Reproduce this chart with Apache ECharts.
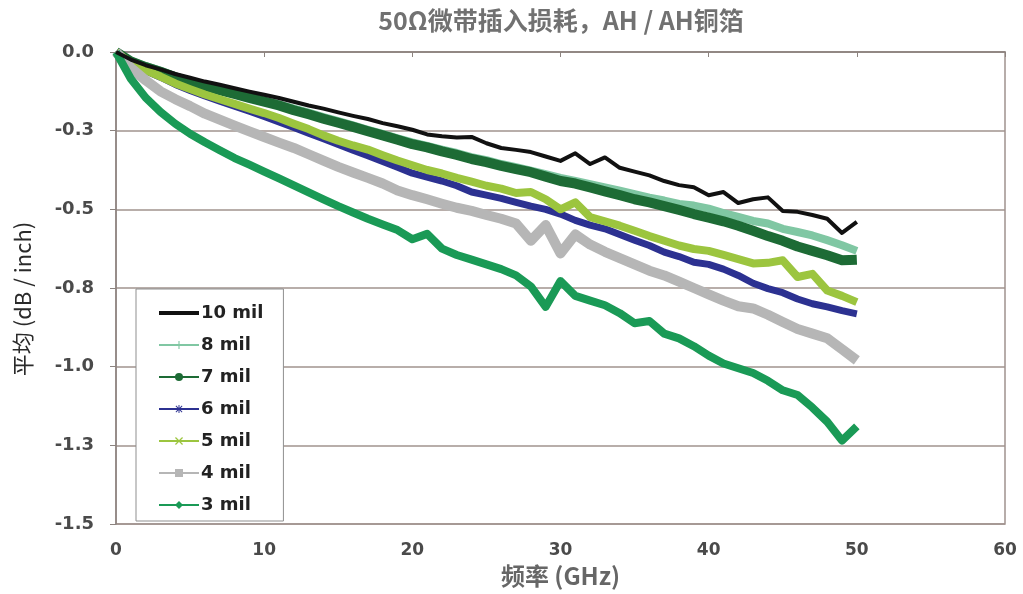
<!DOCTYPE html>
<html>
<head>
<meta charset="utf-8">
<script src="https://cdn.jsdelivr.net/npm/echarts@6/dist/echarts.min.js"></script>
<style>
  html, body { margin: 0; padding: 0; background: #fff; }
  #chart { width: 1023px; height: 594px; }
</style>
</head>
<body>
<div id="chart"></div>
<script>
// frequency points (GHz)
const freqs = [0, 1, 2, 3, 4, 5, 6, 7, 8, 9, 10, 11, 12, 13, 14, 15, 16, 17, 18, 19, 20,
  21, 22, 23, 24, 25, 26, 27, 28, 29, 30, 31, 32, 33, 34, 35, 36, 37, 38, 39, 40,
  41, 42, 43, 44, 45, 46, 47, 48, 49, 50];

// average loss (dB / inch)
const mil10 = [0, -0.024, -0.042, -0.055, -0.07, -0.082, -0.094, -0.104, -0.115, -0.126, -0.136,
  -0.146, -0.158, -0.17, -0.18, -0.192, -0.203, -0.213, -0.226, -0.236, -0.247,
  -0.262, -0.268, -0.272, -0.27, -0.29, -0.305, -0.311, -0.318, -0.332, -0.346,
  -0.322, -0.356, -0.335, -0.368, -0.38, -0.392, -0.41, -0.423, -0.43, -0.455,
  -0.445, -0.48, -0.468, -0.462, -0.505, -0.508, -0.518, -0.53, -0.575, -0.54];
const mil8 = [0, -0.028, -0.045, -0.06, -0.077, -0.092, -0.105, -0.117, -0.13, -0.142, -0.154,
  -0.166, -0.18, -0.193, -0.207, -0.22, -0.233, -0.247, -0.26, -0.274, -0.287,
  -0.298, -0.31, -0.321, -0.334, -0.344, -0.356, -0.366, -0.377, -0.388, -0.4,
  -0.41, -0.42, -0.43, -0.441, -0.452, -0.463, -0.472, -0.483, -0.488, -0.498,
  -0.512, -0.524, -0.537, -0.545, -0.562, -0.572, -0.583, -0.598, -0.614, -0.632];
const mil7 = [0, -0.03, -0.048, -0.063, -0.08, -0.095, -0.108, -0.121, -0.133, -0.146, -0.158,
  -0.17, -0.185, -0.198, -0.212, -0.225, -0.238, -0.252, -0.265, -0.279, -0.293,
  -0.303, -0.316, -0.327, -0.34, -0.35, -0.362, -0.372, -0.382, -0.396, -0.41,
  -0.418, -0.43, -0.443, -0.455, -0.468, -0.478, -0.49, -0.502, -0.515, -0.526,
  -0.538, -0.552, -0.568, -0.585, -0.6, -0.618, -0.632, -0.646, -0.662, -0.66];
const mil6 = [0, -0.036, -0.06, -0.08, -0.103, -0.122, -0.14, -0.156, -0.172, -0.188, -0.205,
  -0.222, -0.24, -0.258, -0.276, -0.294, -0.312, -0.33, -0.348, -0.366, -0.385,
  -0.398, -0.41, -0.425, -0.445, -0.455, -0.465, -0.478, -0.49, -0.5, -0.515,
  -0.535, -0.55, -0.562, -0.58, -0.598, -0.615, -0.636, -0.65, -0.668, -0.675,
  -0.69, -0.71, -0.735, -0.752, -0.765, -0.785, -0.8, -0.81, -0.822, -0.832];
const mil5 = [0, -0.035, -0.058, -0.078, -0.1, -0.118, -0.135, -0.15, -0.165, -0.18, -0.194,
  -0.21, -0.228, -0.245, -0.265, -0.282, -0.297, -0.31, -0.328, -0.345, -0.36,
  -0.375, -0.386, -0.4, -0.412, -0.425, -0.434, -0.448, -0.445, -0.468, -0.5,
  -0.478, -0.525, -0.538, -0.552, -0.568, -0.585, -0.6, -0.615, -0.626, -0.632,
  -0.645, -0.658, -0.672, -0.67, -0.662, -0.715, -0.705, -0.758, -0.775, -0.795];
const mil4 = [0, -0.05, -0.09, -0.125, -0.15, -0.172, -0.196, -0.215, -0.234, -0.252, -0.27,
  -0.288, -0.305, -0.325, -0.345, -0.365, -0.383, -0.4, -0.418, -0.44, -0.455,
  -0.468, -0.482, -0.495, -0.505, -0.518, -0.53, -0.545, -0.6, -0.55, -0.64,
  -0.58, -0.612, -0.635, -0.655, -0.675, -0.695, -0.71, -0.73, -0.75, -0.77,
  -0.79, -0.808, -0.815, -0.835, -0.858, -0.88, -0.895, -0.91, -0.945, -0.98];
const mil3 = [0, -0.085, -0.145, -0.19, -0.228, -0.26, -0.287, -0.312, -0.337, -0.358, -0.38,
  -0.402, -0.424, -0.446, -0.468, -0.49, -0.51, -0.53, -0.548, -0.566, -0.595,
  -0.578, -0.625, -0.645, -0.66, -0.675, -0.69, -0.71, -0.745, -0.81, -0.728,
  -0.775, -0.79, -0.805, -0.83, -0.862, -0.855, -0.895, -0.91, -0.935, -0.965,
  -0.99, -1.005, -1.02, -1.045, -1.075, -1.09, -1.13, -1.175, -1.235, -1.19];

const seriesNames = ['10 mil', '8 mil', '7 mil', '6 mil', '5 mil', '4 mil', '3 mil'];
const yTickLabels = ['0.0', '-0.3', '-0.5', '-0.8', '-1.0', '-1.3', '-1.5'];
const xTickLabels = ['0', '10', '20', '30', '40', '50', '60'];

const PLUS = 'path://M4.3 0H5.7V10H4.3Z M0 4.3H10V5.7H0Z';
const CROSS = 'path://M1.5 0.5L9.5 8.5L8.5 9.5L0.5 1.5Z M8.5 0.5L9.5 1.5L1.5 9.5L0.5 8.5Z';
const STAR = 'path://M4.4 0H5.6V10H4.4Z M0 4.4H10V5.6H0Z M1.5 0.7L9.3 8.5L8.5 9.3L0.7 1.5Z M8.5 0.7L9.3 1.5L1.5 9.3L0.7 8.5Z';

const chart = echarts.init(document.getElementById('chart'));

const pairs = vals => freqs.map((f, i) => [f, vals[i]]);

const makeLine = (name, vals, color, width, symbol, z) => ({
  name,
  type: 'line',
  data: pairs(vals),
  symbol,
  showSymbol: false,
  lineStyle: { color, width, join: 'round' },
  itemStyle: { color },
  z: z || 2,
  silent: true
});

const option = {
  animation: false,
  backgroundColor: '#fff',
  title: {
    text: '50Ω微带插入损耗，AH / AH铜箔',
    left: 556,
    textAlign: 'center',
    top: 3,
    textStyle: {
      fontFamily: 'Noto Sans CJK SC',
      fontSize: 25,
      fontWeight: 'bold',
      color: '#717171'
    }
  },
  grid: {
    left: 116,
    right: 18,
    top: 52,
    bottom: 70,
    show: true,
    borderColor: '#a0938e',
    borderWidth: 1.5,
    backgroundColor: 'transparent'
  },
  legend: {
    orient: 'vertical',
    left: 136,
    top: 289,
    padding: [15, 20, 7, 22],
    itemWidth: 40,
    itemHeight: 10,
    itemGap: 14,
    borderColor: '#8f8f8f',
    borderWidth: 1,
    backgroundColor: '#fff',
    lineStyle: { width: 2 },
    textStyle: {
      fontFamily: 'DejaVu Sans',
      fontWeight: 'bold',
      fontSize: 18,
      lineHeight: 16,
      color: '#222',
      padding: [0, 0, 0, -3]
    },
    data: [
      { name: '10 mil', icon: 'path://M0 0H40V4H0Z' },
      '8 mil', '7 mil', '6 mil', '5 mil', '4 mil', '3 mil'
    ]
  },
  xAxis: {
    type: 'value',
    min: 0,
    max: 60,
    interval: 10,
    name: '频率 (GHz)',
    nameLocation: 'middle',
    nameGap: 40,
    nameTextStyle: {
      fontFamily: 'Noto Sans CJK SC',
      fontSize: 24,
      fontWeight: 'bold',
      color: '#666'
    },
    axisLine: { lineStyle: { color: '#8c837f', width: 1.5 } },
    axisTick: { length: 5, lineStyle: { color: '#8c837f' } },
    splitLine: { show: false },
    axisLabel: {
      margin: 18,
      fontFamily: 'DejaVu Sans',
      fontWeight: 'bold',
      fontSize: 17,
      color: '#4a4a4a',
      formatter: v => xTickLabels[Math.round(v / 10)]
    }
  },
  yAxis: {
    type: 'value',
    min: -1.5,
    max: 0,
    interval: 0.25,
    name: '平均 (dB / inch)',
    nameLocation: 'middle',
    nameGap: 82,
    nameRotate: 90,
    nameTextStyle: {
      fontFamily: 'Noto Sans CJK SC',
      fontSize: 22,
      color: '#2a2a2a',
      padding: [0, 22, 0, 0]
    },
    axisLine: { show: true, lineStyle: { color: '#8c837f', width: 1.5 } },
    axisTick: { show: true, length: 6, lineStyle: { color: '#8c837f' } },
    splitLine: { lineStyle: { color: '#a0938e', width: 1.5 } },
    axisLabel: {
      margin: 22,
      fontFamily: 'DejaVu Sans',
      fontWeight: 'bold',
      fontSize: 18,
      color: '#4a4a4a',
      formatter: v => yTickLabels[Math.round(-v / 0.25)]
    }
  },
  series: [
    makeLine(seriesNames[0], mil10, '#111111', 4, 'none', 4),
    makeLine(seriesNames[1], mil8, '#80c7a3', 8, PLUS),
    makeLine(seriesNames[2], mil7, '#1d6b35', 10, 'circle'),
    makeLine(seriesNames[3], mil6, '#2c3191', 7, STAR),
    makeLine(seriesNames[4], mil5, '#9cc53f', 8, CROSS),
    makeLine(seriesNames[5], mil4, '#b6b6b6', 10, 'rect'),
    makeLine(seriesNames[6], mil3, '#1a9a56', 8, 'diamond')
  ]
};

chart.setOption(option);
window.addEventListener('resize', () => chart.resize());
</script>
</body>
</html>
